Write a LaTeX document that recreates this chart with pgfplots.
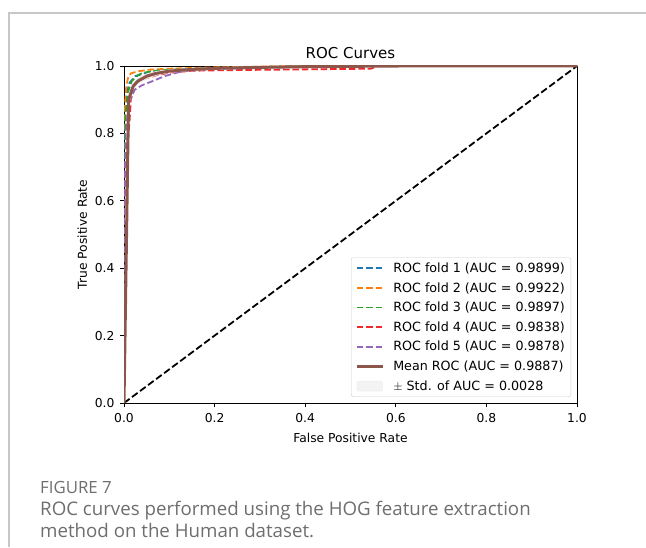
\documentclass[border=0pt]{standalone}
\usepackage{fontspec}
\setmainfont{DejaVu Sans}
\newfontfamily\capfont{Open Sans}
\usepackage{pgfplots}
\pgfplotsset{compat=1.18}
\definecolor{c1}{HTML}{1F77B4}
\definecolor{c2}{HTML}{FF7F0E}
\definecolor{c3}{HTML}{2CA02C}
\definecolor{c4}{HTML}{F02A2A}
\definecolor{c5}{HTML}{9467BD}
\definecolor{cmean}{HTML}{8C564B}
\definecolor{capgray}{HTML}{6E6E6E}
\newcommand{\tf}{\fontsize{12.3}{14}\selectfont}
\newcommand{\lf}{\fontsize{12.7}{15}\selectfont}
\newcommand{\legsp}{\hspace*{7pt}}
\begin{document}
\begin{tikzpicture}[x=1pt,y=1pt]
\useasboundingbox (0,0) rectangle (646,547);
\draw[black!22, line width=1.2pt] (9,0) -- (9,534) -- (646,534);
\begin{axis}[
  at={(124pt,144pt)}, anchor=south west,
  scale only axis, width=453pt, height=337pt,
  xmin=0, xmax=1, ymin=0, ymax=1,
  xtick={0,0.2,0.4,0.6,0.8,1.0}, ytick={0,0.2,0.4,0.6,0.8,1.0},
  xticklabel style={yshift=-3pt, /pgf/number format/fixed, /pgf/number format/fixed zerofill, /pgf/number format/precision=1},
  yticklabel style={xshift=-2pt, /pgf/number format/fixed, /pgf/number format/fixed zerofill, /pgf/number format/precision=1},
  /pgf/number format/assume math mode=true,
  tick label style={font=\tf},
  tick align=outside, tick pos=left,
  major tick length=4pt,
  every tick/.style={black, line width=0.9pt},
  axis line style={black, line width=0.9pt},
  xlabel={False Positive Rate}, ylabel={True Positive Rate},
  label style={font=\tf},
  xlabel style={yshift=-3pt},
  ylabel style={yshift=1pt},
  title={ROC Curves},
  title style={font=\fontsize{15}{17}\selectfont, yshift=-2pt},
  clip=true,
  legend style={at={(0.987,0.018)}, anchor=south east, draw=black!20, rounded corners=2pt,
    fill=white, fill opacity=0.8, text opacity=1, font=\lf, row sep=4.5pt,
    inner xsep=4pt, inner ysep=3pt},
  legend cell align=left,
  legend image code/.code={\draw[#1] (0pt,0pt) -- (26pt,0pt);},
]
\addplot[c1, line width=1.8pt, dash pattern=on 6.5pt off 2.9pt] coordinates {
(0,0)(0,0.55)(0.001,0.75)(0.003,0.86)(0.006,0.92)(0.012,0.95)(0.025,0.97)(0.05,0.98)(0.1,0.988)(0.2,0.994)(0.35,0.998)(0.5,1)(1,1)};
\addlegendentry{\legsp ROC fold 1 (AUC = 0.9899)}
\addplot[c2, line width=1.8pt, dash pattern=on 6.5pt off 2.9pt] coordinates {
(0,0)(0,0.7)(0.002,0.88)(0.005,0.94)(0.009,0.965)(0.015,0.978)(0.03,0.984)(0.055,0.989)(0.1,0.992)(0.2,0.996)(0.35,0.999)(0.45,1)(1,1)};
\addlegendentry{\legsp ROC fold 2 (AUC = 0.9922)}
\addplot[c3, line width=1.8pt, dash pattern=on 6.5pt off 2.9pt] coordinates {
(0,0)(0,0.6)(0.003,0.85)(0.008,0.92)(0.017,0.955)(0.03,0.972)(0.04,0.979)(0.068,0.986)(0.12,0.99)(0.2,0.994)(0.35,0.998)(0.5,1)(1,1)};
\addlegendentry{\legsp ROC fold 3 (AUC = 0.9897)}
\addplot[c4, line width=1.8pt, dash pattern=on 6.5pt off 2.9pt] coordinates {
(0,0)(0,0.5)(0.003,0.7)(0.008,0.78)(0.012,0.83)(0.015,0.9)(0.024,0.945)(0.04,0.96)(0.07,0.972)(0.1,0.98)(0.15,0.986)(0.25,0.988)(0.4,0.99)(0.545,0.992)(0.56,1)(1,1)};
\addlegendentry{\legsp ROC fold 4 (AUC = 0.9838)}
\addplot[c5, line width=1.8pt, dash pattern=on 6.5pt off 2.9pt] coordinates {
(0,0)(0,0.5)(0.004,0.8)(0.01,0.89)(0.024,0.93)(0.04,0.943)(0.061,0.954)(0.09,0.97)(0.127,0.984)(0.18,0.99)(0.3,0.995)(0.45,0.999)(0.55,1)(1,1)};
\addlegendentry{\legsp ROC fold 5 (AUC = 0.9878)}
\addplot[black, line width=1.8pt, dash pattern=on 7pt off 3pt, forget plot] coordinates {(0,0)(1,1)};
\addplot[fill=gray!12, draw=none, forget plot] coordinates {
(0,0)(0.0101,0.915)(0.0202,0.952)(0.0303,0.965)(0.0505,0.978)(0.0707,0.985)(0.101,0.99)(0.1515,0.994)(0.202,0.997)(0.303,0.999)(0.404,1)(1,1)
(0.606,1.0)(0.505,0.998)(0.404,0.996)(0.303,0.993)(0.202,0.989)(0.1515,0.986)(0.101,0.98)(0.0707,0.971)(0.0505,0.962)(0.0303,0.945)(0.0202,0.928)(0.0101,0.885)(0,0)} -- cycle;
\addplot[cmean, line width=3pt] coordinates {
(0,0)(0.0101,0.90)(0.0202,0.94)(0.0303,0.955)(0.0505,0.97)(0.0707,0.978)(0.101,0.985)(0.1515,0.99)(0.202,0.993)(0.303,0.996)(0.404,0.998)(0.505,0.999)(0.606,1.0)(1,1)};
\addlegendentry{\legsp Mean ROC (AUC = 0.9887)}
\addlegendimage{legend image code/.code={\fill[gray!12] (0pt,-5pt) rectangle (26pt,5pt);}}
\addlegendentry{\legsp $\pm$ Std. of AUC =  0.0028}
\end{axis}
\node[anchor=base west, inner sep=0pt, text=capgray, font=\capfont\fontsize{16.8}{18}\selectfont] at (40,54) {FIGURE 7};
\node[anchor=base west, inner sep=0pt, text=capgray, font=\capfont\fontsize{18.7}{20}\selectfont] at (40,32) {ROC curves performed using the HOG feature extraction};
\node[anchor=base west, inner sep=0pt, text=capgray, font=\capfont\fontsize{18.7}{20}\selectfont] at (40,10) {method on the Human dataset.};
\end{tikzpicture}
\end{document}
